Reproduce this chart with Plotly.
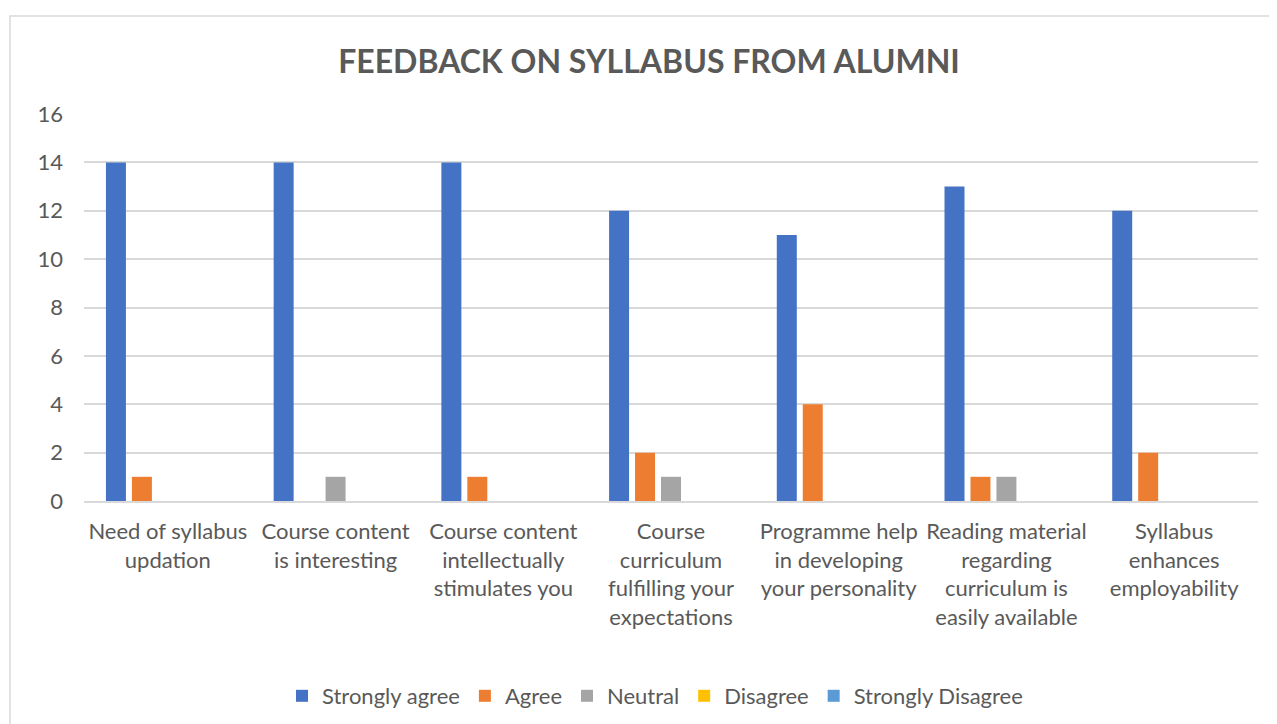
import plotly.graph_objects as go

categories = [
    "Need of syllabus<br>updation",
    "Course content<br>is interesting",
    "Course content<br>intellectually<br>stimulates you",
    "Course<br>curriculum<br>fulfilling your<br>expectations",
    "Programme help<br>in developing<br>your personality",
    "Reading material<br>regarding<br>curriculum is<br>easily available",
    "Syllabus<br>enhances<br>employability",
]
strongly_agree = [14, 14, 14, 12, 11, 13, 12]
agree = [1, 0, 1, 2, 4, 1, 2]
neutral = [0, 1, 0, 1, 0, 1, 0]
disagree = [0, 0, 0, 0, 0, 0, 0]
strongly_disagree = [0, 0, 0, 0, 0, 0, 0]
y_ticks = [0, 2, 4, 6, 8, 10, 12, 14, 16]

series = [
    ("Strongly agree", strongly_agree, "#4472C4"),
    ("Agree", agree, "#ED7D31"),
    ("Neutral", neutral, "#A5A5A5"),
    ("Disagree", disagree, "#FFC000"),
    ("Strongly Disagree", strongly_disagree, "#5B9BD5"),
]

FONT = "Lato, 'Open Sans', sans-serif"
TXT = "#595959"

fig = go.Figure()
for name, vals, col in series:
    fig.add_trace(go.Bar(x=categories, y=vals, name=name,
                         marker=dict(color=col, line=dict(width=0))))

# body margin of 8px is compensated in margins
L, T, PW, PH = 76, 106, 1174, 387
fig.update_layout(
    width=1277, height=724,
    paper_bgcolor="white", plot_bgcolor="white",
    margin=dict(l=L, r=1277 - L - PW, t=T, b=724 - T - PH),
    barmode="group", bargap=0.226, bargroupgap=0.23,
    font=dict(family=FONT, color=TXT, size=22),
    title=dict(text="<b>FEEDBACK ON SYLLABUS FROM ALUMNI</b>",
               x=(649 - 8) / 1277, xref="container", xanchor="center",
               y=1 - 54 / 724, yref="container", yanchor="middle",
               font=dict(family=FONT, size=32, color=TXT)),
    legend=dict(orientation="h", x=(655 - 84) / PW, xanchor="center",
                y=(501 - 696) / PH, yanchor="middle",
                font=dict(family=FONT, size=22, color=TXT),
                itemwidth=30, tracegroupgap=0),
    showlegend=True,
)
fig.update_yaxes(range=[0, 16], tickvals=y_ticks, showgrid=True,
                 gridcolor="#D9D9D9", gridwidth=1.5, zeroline=False,
                 showline=False, ticks="", ticklabelstandoff=20,
                 tickfont=dict(family=FONT, size=22, color=TXT))
fig.update_xaxes(showgrid=False, showline=True, linecolor="#D9D9D9",
                 linewidth=1.5, ticks="", ticklabelstandoff=10,
                 tickfont=dict(family=FONT, size=22, color=TXT),
                 tickangle=0)

fig.add_shape(type="rect", xref="paper", yref="paper",
              x0=(10 - 84) / PW, x1=1.2, y0=-1.0, y1=(501 - 16) / PH,
              line=dict(color="#D9D9D9", width=1.5), fillcolor="rgba(0,0,0,0)",
              layer="below")

fig.write_html("out.html")
